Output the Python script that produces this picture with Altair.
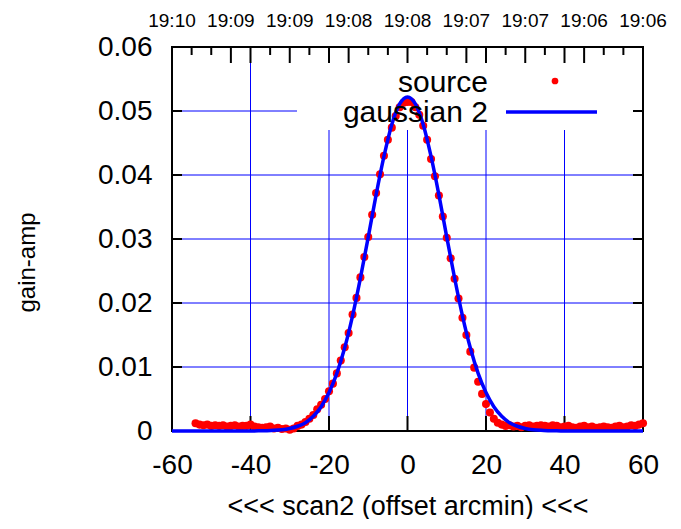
import altair as alt
import pandas as pd

# ---- data ----
SRC_X = [-54, -53, -52, -51, -50, -49, -48, -47, -46, -45,
         -44, -43, -42, -41, -40, -39, -38, -37, -36, -35,
         -34, -33, -32, -31, -30, -29, -28, -27, -26, -25,
         -24, -23, -22, -21, -20, -19, -18, -17, -16, -15,
         -14, -13, -12, -11, -10, -9, -8, -7, -6, -5,
         -4, -3, -2, -1, 0, 1, 2, 3, 4, 5,
         6, 7, 8, 9, 10, 11, 12, 13, 14, 15,
         16, 17, 18, 19, 20, 21, 22, 23, 24, 25,
         26, 27, 28, 29, 30, 31, 32, 33, 34, 35,
         36, 37, 38, 39, 40, 41, 42, 43, 44, 45,
         46, 47, 48, 49, 50, 51, 52, 53, 54, 55,
         56, 57, 58, 59, 60]
SRC_Y = [0.0012, 0.0010, 0.0009, 0.0010, 0.0008, 0.0009, 0.0008, 0.0009, 0.0007, 0.0008,
         0.0009, 0.0007, 0.0008, 0.0008, 0.0010, 0.0007, 0.0006, 0.0005, 0.0006, 0.0007,
         0.0004, 0.0005, 0.0003, 0.0004, 0.0002, 0.0004, 0.0008, 0.0010, 0.0014, 0.0019,
         0.0025, 0.0034, 0.0041, 0.0050, 0.0062, 0.0074, 0.0090, 0.0110, 0.0131, 0.0153,
         0.0182, 0.0208, 0.0240, 0.0272, 0.0303, 0.0338, 0.0372, 0.0401, 0.0430, 0.0455,
         0.0474, 0.0492, 0.0506, 0.0513, 0.0514, 0.0514, 0.0506, 0.0494, 0.0477, 0.0455,
         0.0425, 0.0398, 0.0368, 0.0335, 0.0302, 0.0270, 0.0238, 0.0207, 0.0177, 0.0150,
         0.0124, 0.0099, 0.0077, 0.0058, 0.0042, 0.0029, 0.0019, 0.0013, 0.0010, 0.0008,
         0.0009, 0.0007, 0.0008, 0.0006, 0.0008, 0.0009, 0.0007, 0.0008, 0.0009, 0.0008,
         0.0007, 0.0009, 0.0008, 0.0006, 0.0007, 0.0008, 0.0006, 0.0005, 0.0007, 0.0008,
         0.0006, 0.0007, 0.0005, 0.0006, 0.0007, 0.0006, 0.0005, 0.0007, 0.0008, 0.0006,
         0.0007, 0.0009, 0.0008, 0.0010, 0.0012]

FIT_X = [-60, -58, -56, -54, -52, -50, -48, -46, -44, -42,
         -40, -38, -36, -34, -32, -30, -28, -26, -24, -22,
         -20, -18, -16, -14, -12, -10, -8, -6, -4, -2,
         0, 2, 4, 6, 8, 10, 12, 14, 16, 18,
         20, 22, 24, 26, 28, 30, 32, 34, 36, 38,
         40, 42, 44, 46, 48, 50, 52, 54, 56, 58, 60]
FIT_Y = [0.0, 0.0, 0.0, 0.0, 0.0, 0.0, 0.0, 0.0, 0.0, 0.0,
         0.00001, 0.00002, 0.00005, 0.0001, 0.0002, 0.0004, 0.00074, 0.0013, 0.0023, 0.0038,
         0.0060, 0.0090, 0.0130, 0.0180, 0.0239, 0.0303, 0.0369, 0.0429, 0.0479, 0.0511,
         0.0522, 0.0511, 0.0479, 0.0429, 0.0369, 0.0303, 0.0239, 0.0180, 0.0130, 0.0090,
         0.0060, 0.0038, 0.0023, 0.0013, 0.00074, 0.0004, 0.0002, 0.0001, 0.00005, 0.00002,
         0.00001, 0.0, 0.0, 0.0, 0.0, 0.0, 0.0, 0.0, 0.0, 0.0, 0.0]

X_TICKS = [-60, -40, -20, 0, 20, 40, 60]
Y_TICKS = [0, 0.01, 0.02, 0.03, 0.04, 0.05, 0.06]
GRID_X = [-40, -20, 0, 20, 40]
GRID_Y = [0.01, 0.02, 0.03, 0.04, 0.05]
TOP_POS = [-60, -45, -30, -15, 0, 15, 30, 45, 60]
TOP_LABELS = ["19:10", "19:09", "19:09", "19:08", "19:08", "19:07", "19:07", "19:06", "19:06"]
TOP_MAJOR = [-45, -40, -30, -20, -15, 0, 15, 20, 30, 40, 45]
TOP_MINOR = [-55, -50, -35, -25, -10, -5, 5, 10, 25, 35, 50, 55]
LEGEND = ["source", "gaussian 2"]

X_TITLE = "<<< scan2 (offset arcmin) <<<"
Y_TITLE = "gain-amp"

# ---- styling ----
W, H = 471, 384
FONT = "Liberation Sans"
RED = "#ff0000"
BLUE = "#0000ff"

xs = alt.Scale(domain=[-60, 60], nice=False, zero=False)
ys = alt.Scale(domain=[0, 0.06], nice=False, zero=False)

AX = alt.Axis(values=X_TICKS, labelExpr="'' + datum.value", grid=False, ticks=False,
              domain=False, tickSize=0, labelPadding=20, labelFontSize=28, labelFont=FONT,
              labelColor="black", labelFlush=False, labelOverlap=False,
              title=X_TITLE, titleFont=FONT, titleFontSize=27, titleFontWeight="normal",
              titleColor="black", titleY=83, titleBaseline="alphabetic")
AY = alt.Axis(values=Y_TICKS, labelExpr="datum.value == 0 ? '0' : format(datum.value, '.2f')",
              grid=False, ticks=False, domain=False, tickSize=0, labelPadding=20,
              labelFontSize=28, labelFont=FONT, labelColor="black", labelFlush=False,
              labelOverlap=False, labelBaseline="middle",
              title=Y_TITLE, titleFont=FONT, titleFontSize=24, titleFontWeight="normal",
              titleColor="black", titleX=-145, titleY=215, titleAngle=-90,
              titleBaseline="middle", titleAlign="center")


def X(f):
    return alt.X(f, type="quantitative", scale=xs, axis=AX)


def Y(f):
    return alt.Y(f, type="quantitative", scale=ys, axis=AY)


one = pd.DataFrame({"k": [0]})

grid_v = alt.Chart(pd.DataFrame({"x": GRID_X})).mark_rule(color=BLUE, strokeWidth=1).encode(x=X("x"))
grid_h = alt.Chart(pd.DataFrame({"y": GRID_Y})).mark_rule(color=BLUE, strokeWidth=1).encode(y=Y("y"))

box = alt.Chart(one).mark_rect(color="white").encode(
    x=alt.value(125), x2=alt.value(470), y=alt.value(1), y2=alt.value(83))

tick_style = dict(color="black", strokeWidth=2)
t_bottom = alt.Chart(pd.DataFrame({"x": X_TICKS})).mark_rule(**tick_style).encode(
    x=X("x"), y=alt.value(H), y2=alt.value(H - 15))
t_top_major = alt.Chart(pd.DataFrame({"x": TOP_MAJOR})).mark_rule(**tick_style).encode(
    x=X("x"), y=alt.value(0), y2=alt.value(16))
t_top_minor = alt.Chart(pd.DataFrame({"x": TOP_MINOR})).mark_rule(**tick_style).encode(
    x=X("x"), y=alt.value(0), y2=alt.value(8))
t_left = alt.Chart(pd.DataFrame({"y": Y_TICKS})).mark_rule(**tick_style).encode(
    y=Y("y"), x=alt.value(0), x2=alt.value(10))
t_right = alt.Chart(pd.DataFrame({"y": Y_TICKS})).mark_rule(**tick_style).encode(
    y=Y("y"), x=alt.value(W), x2=alt.value(W - 10))

points = alt.Chart(pd.DataFrame({"x": SRC_X, "y": SRC_Y})).mark_circle(
    color=RED, size=65, opacity=1).encode(x=X("x"), y=Y("y"))
fit = alt.Chart(pd.DataFrame({"x": FIT_X, "y": FIT_Y})).mark_line(
    color=BLUE, strokeWidth=3.5, interpolate="monotone").encode(x=X("x"), y=Y("y"))

top_labels = alt.Chart(pd.DataFrame({"x": TOP_POS, "label": TOP_LABELS})).mark_text(
    font=FONT, fontSize=19, baseline="alphabetic", color="black").encode(
    x=X("x"), y=alt.value(-20), text="label:N")

leg1 = alt.Chart(pd.DataFrame({"t": [LEGEND[0]]})).mark_text(
    font=FONT, fontSize=30, align="right", baseline="alphabetic", color="black").encode(
    x=alt.value(316), y=alt.value(45), text="t:N")
leg2 = alt.Chart(pd.DataFrame({"t": [LEGEND[1]]})).mark_text(
    font=FONT, fontSize=30, align="right", baseline="alphabetic", color="black").encode(
    x=alt.value(316), y=alt.value(75), text="t:N")
leg_dot = alt.Chart(one).mark_circle(color=RED, size=45, opacity=1).encode(
    x=alt.value(383), y=alt.value(34))
leg_line = alt.Chart(one).mark_rule(color=BLUE, strokeWidth=3.5).encode(
    x=alt.value(334), x2=alt.value(425), y=alt.value(65))

chart = alt.layer(
    grid_v, grid_h, box, t_bottom, t_top_major, t_top_minor, t_left, t_right,
    points, fit, top_labels, leg1, leg2, leg_dot, leg_line
).properties(
    width=W, height=H,
    autosize=alt.AutoSizeParams(type="none"),
    padding={"left": 164, "top": 39, "right": 30, "bottom": 88},
    background="white",
).configure_view(stroke="black", strokeWidth=2)

chart.save("out.html", embed_options={"renderer": "svg", "actions": False})
